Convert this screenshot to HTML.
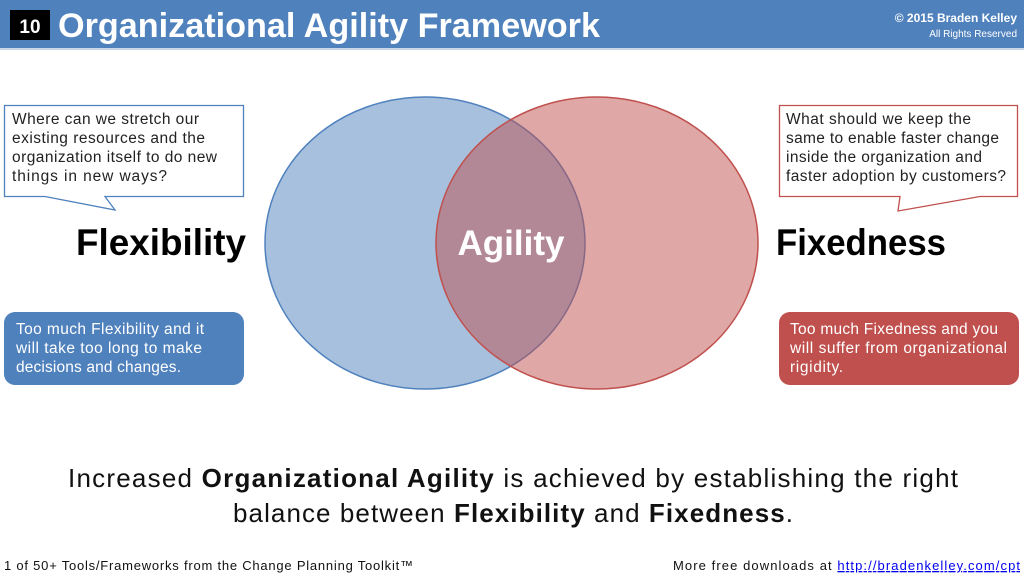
<!DOCTYPE html>
<html><head><meta charset="utf-8"><style>
body{margin:0;width:1024px;height:577px;overflow:hidden;background:#fff;font-family:"Liberation Sans","DejaVu Sans",sans-serif}
</style></head><body>
<svg width="1024" height="577" viewBox="0 0 1024 577" xmlns="http://www.w3.org/2000/svg" font-family="Liberation Sans, DejaVu Sans, sans-serif">
<rect x="0" y="0" width="1024" height="48" fill="#4f81bd"/>
<rect x="0" y="48" width="1024" height="2" fill="#c9d6e8"/>
<rect x="10" y="10" width="40" height="30" fill="#000"/>
<text x="30" y="33" fill="#fff" font-size="19" font-weight="bold" text-anchor="middle">10</text>
<text x="58" y="37" fill="#fff" font-size="34" font-weight="bold" textLength="542" lengthAdjust="spacingAndGlyphs">Organizational Agility Framework</text>
<text x="1017" y="22" fill="#fff" font-size="12" font-weight="bold" text-anchor="end">© 2015 Braden Kelley</text>
<text x="1017" y="37" fill="#fff" font-size="10" text-anchor="end">All Rights Reserved</text>

<ellipse cx="425" cy="243" rx="160" ry="146" fill="#4f81bd" fill-opacity="0.5" stroke="#4f81bd" stroke-width="1.5"/>
<ellipse cx="597" cy="243" rx="161" ry="146" fill="#c0504d" fill-opacity="0.5" stroke="#c0504d" stroke-width="1.5"/>
<text x="511" y="255" fill="#fff" font-size="35" font-weight="bold" text-anchor="middle">Agility</text>
<text x="76" y="255" fill="#000" font-size="37" font-weight="bold" textLength="170" lengthAdjust="spacingAndGlyphs">Flexibility</text>
<text x="776" y="255" fill="#000" font-size="37" font-weight="bold" textLength="170" lengthAdjust="spacingAndGlyphs">Fixedness</text>

<path d="M4.5 105.5 H243.5 V196.5 H105 L115 210 L45 196.5 H4.5 Z" fill="#fff" stroke="#4f81bd" stroke-width="1.3"/>
<g font-size="15.5" fill="#222" lengthAdjust="spacingAndGlyphs">
<text x="12" y="124" textLength="187">Where can we stretch our</text>
<text x="12" y="143" textLength="193">existing  resources and the</text>
<text x="12" y="162" textLength="205">organization itself to do new</text>
<text x="12" y="181" textLength="155">things in new ways?</text>
</g>
<path d="M779.5 105.5 H1017.5 V196.5 H980 L898 211 L900 196.5 H779.5 Z" fill="#fff" stroke="#c0504d" stroke-width="1.3"/>
<g font-size="15.5" fill="#222">
<text x="786" y="124" textLength="185">What should we keep the</text>
<text x="786" y="143" textLength="213">same to enable faster change</text>
<text x="786" y="162" textLength="196">inside the organization and</text>
<text x="786" y="181" textLength="220">faster adoption by customers?</text>
</g>

<rect x="4" y="312" width="240" height="73" rx="11" fill="#4f81bd"/>
<g font-size="15.5" fill="#fff">
<text x="16" y="334" textLength="188">Too much Flexibility and it</text>
<text x="16" y="353" textLength="186">will take too long to make</text>
<text x="16" y="372" textLength="165">decisions and changes.</text>
</g>
<rect x="779" y="312" width="240" height="73" rx="11" fill="#c0504d"/>
<g font-size="15.5" fill="#fff">
<text x="790" y="334" textLength="208">Too much Fixedness and you</text>
<text x="790" y="353" textLength="217">will suffer from organizational</text>
<text x="790" y="372" textLength="53">rigidity.</text>
</g>

<g font-size="26" fill="#111">
<text x="68" y="487" textLength="890">Increased <tspan font-weight="bold">Organizational Agility</tspan> is achieved by establishing the right</text>
<text x="233" y="522" textLength="560">balance between <tspan font-weight="bold">Flexibility</tspan> and <tspan font-weight="bold">Fixedness</tspan>.</text>
</g>
<text x="4" y="570" font-size="13" fill="#111" textLength="409">1 of 50+ Tools/Frameworks from the Change Planning Toolkit™</text>
<text x="673" y="570" font-size="13" fill="#111" textLength="347">More free downloads at <tspan fill="#0000ee" text-decoration="underline">http://bradenkelley.com/cpt</tspan></text>
</svg>
</body></html>
